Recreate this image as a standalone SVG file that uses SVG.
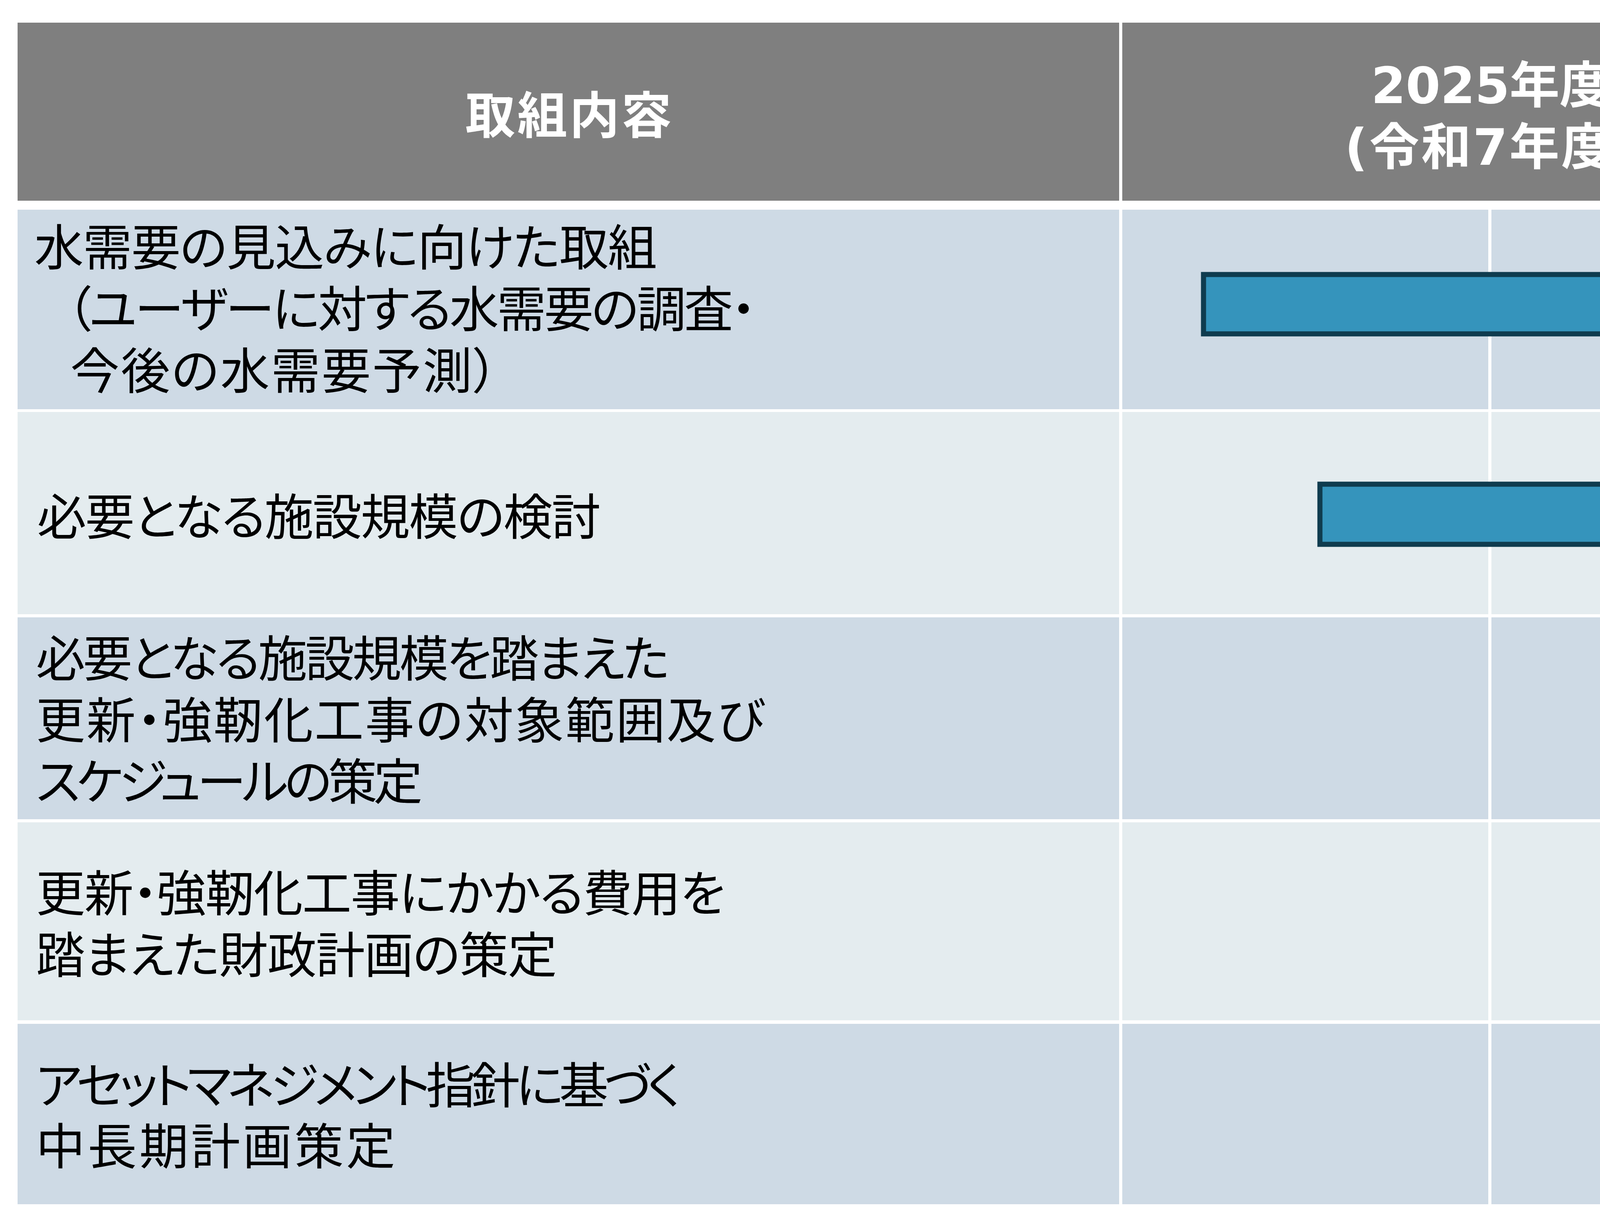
<svg xmlns="http://www.w3.org/2000/svg" width="6721" height="3150" viewBox="0 0 6721 3150">
  <style>
    .hdrbg { fill: #7F7F7F; }
    .rowA { fill: #CEDAE5; }
    .rowB { fill: #E4ECEF; }
    .sep { fill: #FFFFFF; }
    .hdr { font-family: "DejaVu Sans", "Noto Sans CJK JP", sans-serif; font-weight: 700; font-size: 128px; fill: #FFFFFF; text-anchor: middle; }
    .lbl { font-family: "Liberation Sans", "Noto Sans CJK JP", sans-serif; font-size: 126px; fill: #000000; font-feature-settings: "palt"; }
    .mark { font-family: "Liberation Sans", "Noto Sans CJK JP", sans-serif; font-weight: 700; font-size: 130px; fill: #000000; text-anchor: end; }
    .arrow { fill: #3594BC; stroke: #0F3C4F; stroke-width: 13; stroke-linejoin: miter; stroke-miterlimit: 10; }
  </style>
  <rect x="0" y="0" width="6721" height="3150" fill="#FFFFFF"/>

  <g id="header">
    <rect class="hdrbg" x="45" y="58" width="6603" height="456"/>
    <rect class="sep" x="2865" y="58" width="8" height="456"/>
    <rect class="sep" x="4757" y="58" width="8" height="456"/>
    <g id="hdr-task">
      <text class="hdr" x="1455" y="342" font-size="130" textLength="528">取組内容</text>
    </g>
    <g id="hdr-2025">
      <text class="hdr" x="3815" y="264" textLength="610">2025年度</text>
      <text class="hdr" x="3815" y="422" textLength="745">(令和7年度)</text>
    </g>
    <g id="hdr-2026">
      <text class="hdr" x="5706" y="264" textLength="610">2026年度</text>
      <text class="hdr" x="5706" y="422" textLength="745">(令和8年度)</text>
    </g>
  </g>

  <g id="grid">
    <rect class="rowA" x="45" y="537" width="6603" height="511"/>
    <rect class="rowB" x="45" y="1055" width="6603" height="518"/>
    <rect class="rowA" x="45" y="1581" width="6603" height="517"/>
    <rect class="rowB" x="45" y="2106" width="6603" height="507"/>
    <rect class="rowA" x="45" y="2622" width="6603" height="462"/>
    <rect class="sep" x="2865" y="537" width="8" height="2547"/>
    <rect class="sep" x="3810" y="537" width="8" height="2547"/>
    <rect class="sep" x="4757" y="537" width="8" height="2547"/>
    <rect class="sep" x="5703" y="537" width="8" height="2547"/>
  </g>

  <g id="row1">
    <text class="lbl" x="88" y="680" textLength="1594">水需要の見込みに向けた取組</text>
    <text class="lbl" x="170" y="838" textLength="1765">（ユーザーに対する水需要の調査・</text>
    <text class="lbl" x="180" y="996" textLength="1095">今後の水需要予測）</text>
  </g>
  <g id="row2">
    <text class="lbl" x="95" y="1370" textLength="1443">必要となる施設規模の検討</text>
  </g>
  <g id="row3">
    <text class="lbl" x="92" y="1733" textLength="1622">必要となる施設規模を踏まえた</text>
    <text class="lbl" x="92" y="1891" textLength="1865">更新・強靭化工事の対象範囲及び</text>
    <text class="lbl" x="92" y="2048" textLength="990">スケジュールの策定</text>
  </g>
  <g id="row4">
    <text class="lbl" x="92" y="2334" textLength="1765">更新・強靭化工事にかかる費用を</text>
    <text class="lbl" x="92" y="2492" textLength="1334">踏まえた財政計画の策定</text>
  </g>
  <g id="row5">
    <text class="lbl" x="92" y="2826" textLength="1652">アセットマネジメント指針に基づく</text>
    <text class="lbl" x="92" y="2982" textLength="920">中長期計画策定</text>
    <text class="mark" x="6588" y="2905">策定</text>
  </g>

  <g id="connectors">
    <polygon class="arrow" points="3081,703 4291,703 4291,625 4443,779 4291,933 4291,855 3081,855"/>
    <polygon class="arrow" points="3379,1240 4594,1240 4594,1162 4748,1317 4594,1472 4594,1394 3379,1394"/>
    <polygon class="arrow" points="4378,1754 5007,1754 5007,1676 5161,1831 5007,1986 5007,1908 4378,1908"/>
    <polygon class="arrow" points="4996,2287 6165,2287 6165,2209 6320,2364 6165,2519 6165,2441 4996,2441"/>
  </g>
</svg>
